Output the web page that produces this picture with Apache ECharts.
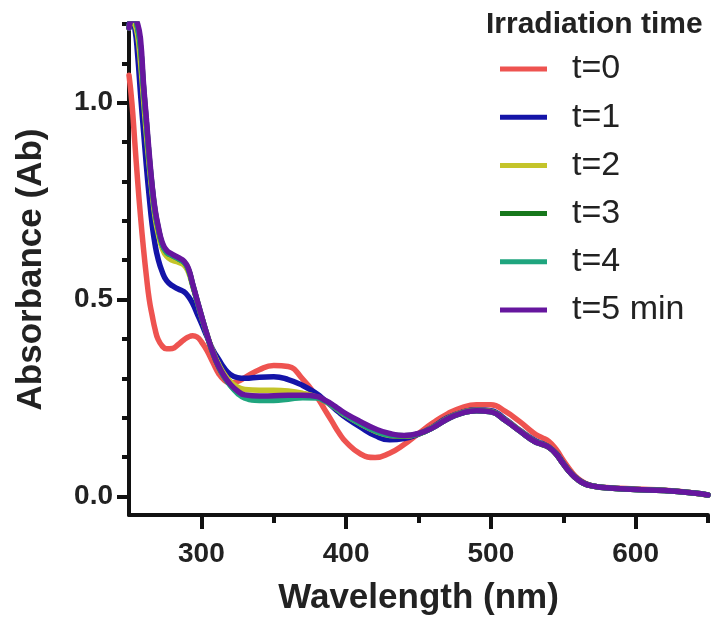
<!DOCTYPE html>
<html>
<head>
<meta charset="utf-8">
<script src="https://cdn.jsdelivr.net/npm/echarts@6/dist/echarts.min.js"></script>
<style>
html,body{margin:0;padding:0;background:#fff;}
#c{width:712px;height:621px;}
</style>
</head>
<body>
<div id="c"></div>
<script>
const wavelength = [250,252,254,256,258,260,262,264,266,268,270,273,276,280,284,288,291,294,297,300,304,308,312,316,320,325,330,340,350,360,370,380,385,390,395,400,410,420,430,440,450,460,470,480,490,500,510,520,530,535,540,545,550,555,560,565,570,580,600,620,640,650];

const t0 = [1.07,1.0,0.9,0.8,0.71,0.63,0.56,0.5,0.46,0.425,0.4,0.382,0.375,0.376,0.386,0.398,0.405,0.408,0.405,0.393,0.37,0.34,0.312,0.295,0.288,0.292,0.302,0.322,0.333,0.33,0.298,0.252,0.222,0.192,0.162,0.138,0.108,0.099,0.11,0.132,0.16,0.187,0.21,0.226,0.233,0.233,0.216,0.19,0.16,0.15,0.14,0.12,0.092,0.066,0.046,0.034,0.027,0.023,0.019,0.016,0.009,0.004];

const t1 = [1.2,1.21,1.19,1.12,1.02,0.93,0.84,0.76,0.69,0.64,0.605,0.57,0.548,0.535,0.527,0.52,0.508,0.49,0.465,0.44,0.405,0.372,0.348,0.325,0.31,0.302,0.3,0.303,0.304,0.297,0.282,0.26,0.245,0.23,0.214,0.2,0.176,0.155,0.144,0.147,0.158,0.177,0.2,0.214,0.22,0.218,0.196,0.168,0.143,0.135,0.126,0.11,0.085,0.061,0.044,0.033,0.027,0.022,0.018,0.015,0.009,0.004];

const t2 = [1.19,1.21,1.2,1.17,1.1,1.01,0.92,0.84,0.77,0.71,0.67,0.63,0.61,0.6,0.595,0.588,0.57,0.535,0.497,0.458,0.41,0.368,0.335,0.31,0.292,0.278,0.272,0.27,0.27,0.268,0.262,0.252,0.243,0.232,0.218,0.205,0.184,0.166,0.155,0.153,0.159,0.176,0.198,0.213,0.219,0.216,0.194,0.167,0.141,0.133,0.125,0.108,0.083,0.06,0.043,0.032,0.027,0.022,0.018,0.015,0.009,0.004];

const t3 = [1.19,1.21,1.21,1.19,1.14,1.04,0.95,0.86,0.785,0.725,0.685,0.64,0.62,0.612,0.604,0.595,0.577,0.538,0.498,0.459,0.409,0.364,0.329,0.303,0.283,0.265,0.255,0.25,0.25,0.252,0.255,0.252,0.244,0.233,0.22,0.207,0.186,0.168,0.157,0.154,0.159,0.175,0.197,0.212,0.218,0.215,0.193,0.166,0.14,0.133,0.125,0.108,0.083,0.06,0.043,0.032,0.027,0.022,0.018,0.015,0.009,0.004];

const t4 = [1.19,1.21,1.21,1.19,1.14,1.04,0.95,0.86,0.785,0.725,0.685,0.64,0.62,0.612,0.604,0.595,0.577,0.538,0.498,0.459,0.409,0.364,0.329,0.302,0.282,0.262,0.25,0.244,0.244,0.247,0.251,0.25,0.243,0.232,0.219,0.206,0.185,0.167,0.156,0.154,0.159,0.175,0.197,0.212,0.218,0.215,0.193,0.166,0.14,0.133,0.125,0.108,0.083,0.06,0.043,0.032,0.027,0.022,0.018,0.015,0.009,0.004];

const t5 = [1.19,1.21,1.21,1.2,1.16,1.05,0.96,0.87,0.79,0.73,0.69,0.645,0.625,0.615,0.607,0.598,0.58,0.54,0.5,0.46,0.41,0.365,0.33,0.305,0.285,0.268,0.258,0.255,0.256,0.257,0.257,0.254,0.245,0.235,0.222,0.21,0.19,0.172,0.16,0.155,0.16,0.175,0.197,0.212,0.218,0.215,0.193,0.166,0.14,0.133,0.125,0.108,0.083,0.06,0.043,0.032,0.027,0.022,0.018,0.015,0.009,0.004];

const seriesNames = ['t=0','t=1','t=2','t=3','t=4','t=5 min'];
const seriesValues = [t0,t1,t2,t3,t4,t5];
const seriesColors = ['#ee5350','#1414a8','#c4c42a','#17781c','#1fa57e','#66169e'];

const xMajorTicks = [300,400,500,600];
const xMinorTicks = [350,450,550,650];
const yMajorTicks = [0,0.5,1.0];
const yMinorTicks = [0.1,0.2,0.3,0.4,0.6,0.7,0.8,0.9,1.1,1.2];

const FONT = '"Liberation Sans", Arial, sans-serif';
const chart = echarts.init(document.getElementById('c'), null, {renderer:'canvas'});

const axisLineStyle = {color:'#111', width:4};

chart.setOption({
  animation:false,
  backgroundColor:'#fff',
  title:{
    text:'Irradiation time',
    left:486, top:10, padding:0,
    textStyle:{fontFamily:FONT, fontWeight:'bold', fontSize:30, color:'#222'}
  },
  legend:{
    orient:'vertical',
    left:500, top:52, padding:0,
    itemWidth:47, itemHeight:5,
    itemGap:14.2,
    icon:'rect',
    data:seriesNames,
    textStyle:{fontFamily:FONT, fontSize:34, color:'#222', lineHeight:32, padding:[0,0,0,20]}
  },
  grid:{left:129, right:4, top:24, bottom:104, containLabel:false},
  xAxis:[{
    type:'value', min:250, max:650, position:'bottom',
    name:'Wavelength (nm)', nameLocation:'middle', nameGap:66,
    nameTextStyle:{fontFamily:FONT, fontWeight:'bold', fontSize:35, color:'#222'},
    axisLine:{show:true, onZero:false, lineStyle:axisLineStyle},
    axisTick:{show:true, customValues:xMajorTicks, length:14, lineStyle:{color:'#111', width:4}},
    axisLabel:{customValues:xMajorTicks, margin:25, fontFamily:FONT, fontWeight:'bold', fontSize:28, color:'#222'},
    splitLine:{show:false}
  },{
    type:'value', min:250, max:650, position:'bottom', offset:0,
    axisLine:{show:false, onZero:false},
    axisTick:{show:true, customValues:xMinorTicks, length:8, lineStyle:{color:'#111', width:4}},
    axisLabel:{show:false},
    splitLine:{show:false}
  }],
  yAxis:[{
    type:'value', min:-0.047, max:1.2, position:'left',
    name:'Absorbance (Ab)', nameLocation:'middle', nameGap:80, nameRotate:90,
    nameTextStyle:{fontFamily:FONT, fontWeight:'bold', fontSize:35, color:'#222'},
    axisLine:{show:true, onZero:false, lineStyle:axisLineStyle},
    axisTick:{show:true, customValues:yMajorTicks, length:12, lineStyle:{color:'#111', width:4}},
    axisLabel:{customValues:yMajorTicks, margin:16, fontFamily:FONT, fontWeight:'bold', fontSize:28, color:'#222',
      formatter:(v)=>v.toFixed(1)},
    splitLine:{show:false}
  },{
    type:'value', min:-0.047, max:1.2, position:'left', offset:0,
    axisLine:{show:false, onZero:false},
    axisTick:{show:true, customValues:yMinorTicks, length:7, lineStyle:{color:'#111', width:4}},
    axisLabel:{show:false},
    splitLine:{show:false}
  }],
  series: seriesNames.map((name,k)=>({
    name:name,
    type:'line',
    xAxisIndex:0, yAxisIndex:0,
    data: wavelength.map((w,i)=>[w, seriesValues[k][i]]),
    showSymbol:false, symbol:'none',
    smooth:0.5,
    clip:true,
    color:seriesColors[k],
    lineStyle:{width:5.5, color:seriesColors[k], cap:'round', join:'round'},
    z:2+k
  }))
});
</script>
</body>
</html>
